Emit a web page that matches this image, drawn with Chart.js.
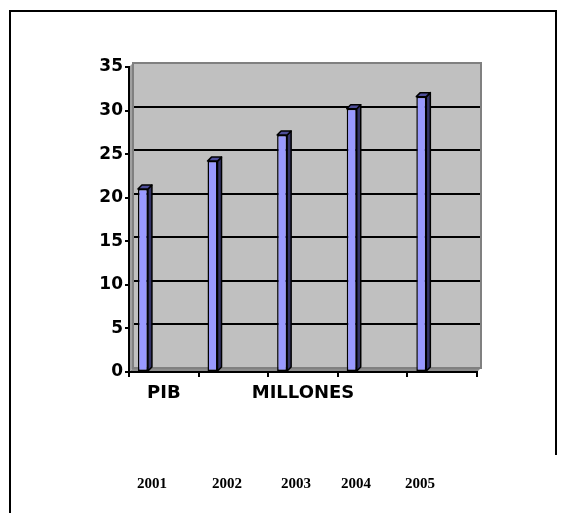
<!DOCTYPE html>
<html>
<head>
<meta charset="utf-8">
<title>PIB</title>
<script src="https://cdn.jsdelivr.net/npm/chart.js@4.4.1/dist/chart.umd.min.js"></script>
<style>
    html, body { margin: 0; padding: 0; background: #fff; }
    #wrap { width: 576px; height: 513px; position: relative; }
</style>
</head>
<body>
<div id="wrap"><canvas id="pibChart" width="576" height="513"></canvas></div>
<script>
// PIB en millones por año
const years = ['2001', '2002', '2003', '2004', '2005'];
const axisLabels = ['PIB', '', 'MILLONES', '', ''];
const pibValues = [21.0, 24.2, 27.2, 30.2, 31.6];
const yMin = 0;
const yMax = 35;
const yStep = 5;

const DEPTH_X = 4;
const DEPTH_Y = 4;
const yearX = [152, 227, 296, 356, 420];

function poly(ctx, pts, fill, stroke) {
    ctx.beginPath();
    ctx.moveTo(pts[0][0], pts[0][1]);
    for (let i = 1; i < pts.length; i++) ctx.lineTo(pts[i][0], pts[i][1]);
    ctx.closePath();
    if (fill) { ctx.fillStyle = fill; ctx.fill(); }
    if (stroke) { ctx.strokeStyle = stroke; ctx.stroke(); }
}

// back wall, side wall, floor and gridlines of the 3D box
const wallPlugin = {
    id: 'wall',
    beforeDraw(chart) {
        const { ctx, chartArea: a, scales } = chart;
        ctx.save();

        // outer frame
        ctx.strokeStyle = '#000';
        ctx.lineWidth = 2;
        ctx.beginPath();
        ctx.moveTo(10, 513);
        ctx.lineTo(10, 11);
        ctx.lineTo(556, 11);
        ctx.lineTo(556, 455);
        ctx.stroke();

        ctx.lineWidth = 1;
        // left side wall
        poly(ctx, [[a.left, a.top], [a.left + DEPTH_X, a.top - DEPTH_Y],
                   [a.left + DEPTH_X, a.bottom - DEPTH_Y], [a.left, a.bottom]], '#a0a0a0');
        // floor
        poly(ctx, [[a.left, a.bottom], [a.left + DEPTH_X, a.bottom - DEPTH_Y],
                   [a.right + DEPTH_X, a.bottom - DEPTH_Y], [a.right, a.bottom]], '#8c8c8c');
        // back wall
        ctx.fillStyle = '#c0c0c0';
        ctx.fillRect(a.left + DEPTH_X, a.top - DEPTH_Y, a.right - a.left, a.bottom - a.top);
        ctx.strokeStyle = '#808080';
        ctx.lineWidth = 2;
        ctx.strokeRect(a.left + DEPTH_X, a.top - DEPTH_Y, a.right - a.left, a.bottom - a.top);

        // gridlines on the wall
        ctx.strokeStyle = '#000';
        ctx.lineWidth = 2;
        for (let v = yMin + yStep; v < yMax; v += yStep) {
            const y = Math.round(scales.y.getPixelForValue(v) - DEPTH_Y);
            ctx.beginPath();
            ctx.moveTo(a.left + DEPTH_X + 1, y);
            ctx.lineTo(a.right + DEPTH_X - 1, y);
            ctx.stroke();
        }
        ctx.restore();
    },
    afterDatasetsDraw(chart) {
        const { ctx } = chart;
        const meta = chart.getDatasetMeta(0);
        ctx.save();
        ctx.lineWidth = 1.5;
        ctx.lineJoin = 'round';
        meta.data.forEach(bar => {
            const p = bar.getProps(['x', 'y', 'base', 'width'], true);
            const l = p.x - p.width / 2;
            const r = p.x + p.width / 2;
            // side face
            poly(ctx, [[r, p.y], [r + DEPTH_X, p.y - DEPTH_Y],
                       [r + DEPTH_X, p.base - DEPTH_Y], [r, p.base]], '#333366', '#000');
            // top face
            poly(ctx, [[l, p.y], [l + DEPTH_X, p.y - DEPTH_Y],
                       [r + DEPTH_X, p.y - DEPTH_Y], [r, p.y]], '#4d4d99', '#000');
        });

        // year row under the chart
        ctx.fillStyle = '#000';
        ctx.font = 'bold 15px "Liberation Serif", "Times New Roman", serif';
        ctx.textAlign = 'center';
        ctx.textBaseline = 'middle';
        years.forEach((yr, i) => ctx.fillText(yr, yearX[i], 484));
        ctx.restore();
    }
};

const ctx = document.getElementById('pibChart').getContext('2d');
const pibChart = new Chart(ctx, {
    type: 'bar',
    data: {
        labels: axisLabels,
        datasets: [
            {
                label: 'PIB',
                data: pibValues,
                backgroundColor: '#9999ff',
                borderColor: '#000',
                borderWidth: 1.5,
                borderSkipped: false
            },
            // two unused series slots, as in the grouped layout
            { label: 'b', data: years.map(() => null) },
            { label: 'c', data: years.map(() => null) }
        ]
    },
    options: {
        responsive: false,
        animation: false,
        devicePixelRatio: 1,
        categoryPercentage: 0.9,
        barPercentage: 0.48,
        layout: { padding: { left: 0, top: 67, right: 99, bottom: 101 } },
        plugins: {
            legend: { display: false },
            tooltip: { enabled: false }
        },
        scales: {
            x: {
                offset: true,
                grid: {
                    offset: true,
                    drawOnChartArea: false,
                    drawTicks: true,
                    tickLength: 5,
                    color: '#000',
                    lineWidth: 2
                },
                border: { display: true, color: '#000', width: 2 },
                ticks: {
                    color: '#000',
                    padding: 6,
                    maxRotation: 0,
                    autoSkip: false,
                    font: { family: '"DejaVu Sans", sans-serif', size: 18, weight: 'bold' }
                },
                afterFit: s => { s.height = 40; }
            },
            y: {
                min: yMin,
                max: yMax,
                grid: {
                    drawOnChartArea: false,
                    drawTicks: true,
                    tickLength: 4,
                    color: '#000',
                    lineWidth: 2
                },
                border: { display: true, color: '#000', width: 2 },
                ticks: {
                    stepSize: yStep,
                    color: '#000',
                    padding: 2,
                    font: { family: '"DejaVu Sans", sans-serif', size: 17, weight: 'bold' }
                },
                afterFit: s => { s.width = 129; }
            }
        }
    },
    plugins: [wallPlugin]
});
</script>
</body>
</html>
